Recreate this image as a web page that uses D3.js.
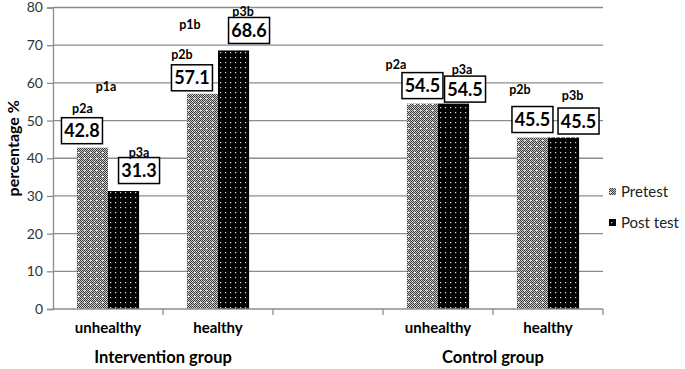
<!DOCTYPE html>
<html>
<head>
<meta charset="utf-8">
<script src="https://cdn.jsdelivr.net/npm/d3@7"></script>
<style>
  body { margin: 0; background: #fff; }
  svg text { font-family: Lato, "Open Sans", sans-serif; }
</style>
</head>
<body>
<div id="chart"></div>
<script>
const groups = ['Intervention group', 'Control group'];
const categories = ['unhealthy', 'healthy', 'unhealthy', 'healthy'];
const categoryGroup = [0, 0, 1, 1];
const series = ['Pretest', 'Post test'];
const pretest = [42.8, 57.1, 54.5, 45.5];
const posttest = [31.3, 68.6, 54.5, 45.5];
const pretestTags = ['p2a', 'p2b', 'p2a', 'p2b'];
const posttestTags = ['p3a', 'p3b', 'p3a', 'p3b'];
const topTags = ['p1a', 'p1b', '', ''];
const yTicks = [0, 10, 20, 30, 40, 50, 60, 70, 80];

// label placement, px offsets (box from bar top, tag from box centre)
const boxOffset = [
  [[-10.5, -17], [15.5, -20.5]],
  [[-10.5, -16], [15.5, -20]],
  [[0, -18], [11.5, -14.5]],
  [[0, -18], [15, -16.5]]
];
const tagOffset = [
  [[0.5, -22.5], [0, -18.5]],
  [[-10, -23], [-6, -19]],
  [[-26.5, -21.5], [-3, -19.5]],
  [[-12.5, -30.5], [-6, -26]]
];
const topTagOffset = [[-2, -61.6], [-28, -26.4]];

const width = 685, height = 369;
const mLeft = 53, mRight = 603, mTop = 7.5, mBottom = 309;

const svg = d3.select('#chart').append('svg')
  .attr('width', width)
  .attr('height', height);

// patterns
const defs = svg.append('defs');
const pPre = defs.append('pattern').attr('id', 'pre')
  .attr('patternUnits', 'userSpaceOnUse').attr('width', 6).attr('height', 6);
pPre.append('rect').attr('width', 6).attr('height', 6).attr('fill', '#3c3c3c');
for (let i = 0; i < 6; i++) {
  for (let j = 0; j < 6; j++) {
    if ((i + j) % 2 === 0) {
      pPre.append('rect').attr('x', i).attr('y', j).attr('width', 1).attr('height', 1)
        .attr('fill', '#c8c8c8');
    }
  }
}
pPre.append('rect').attr('x', 2).attr('y', 2).attr('width', 1).attr('height', 1).attr('fill', '#fff');
pPre.append('rect').attr('x', 1).attr('y', 2).attr('width', 1).attr('height', 1).attr('fill', '#eee');
pPre.append('rect').attr('x', 5).attr('y', 5).attr('width', 1).attr('height', 1).attr('fill', '#fff');

const pPost = defs.append('pattern').attr('id', 'post')
  .attr('patternUnits', 'userSpaceOnUse').attr('width', 5).attr('height', 5);
pPost.append('rect').attr('width', 5).attr('height', 5).attr('fill', '#000');
pPost.append('rect').attr('x', 2).attr('y', 2).attr('width', 1.2).attr('height', 1.2).attr('fill', '#ddd');

const slots = ['c0', 'c1', 'gap', 'c2', 'c3'];
const x0 = d3.scaleBand().domain(slots).range([mLeft, mRight]).padding(0);
const slotOf = i => slots.filter(s => s !== 'gap')[i];
const x1 = d3.scaleBand().domain(series).range([0, x0.bandwidth()]).paddingInner(0).paddingOuter(0.77);
const y = d3.scaleLinear().domain([0, 80]).range([mBottom, mTop]);

// grid
svg.append('g').selectAll('line').data(yTicks.filter(d => d > 0)).join('line')
  .attr('x1', mLeft).attr('x2', mRight)
  .attr('y1', d => y(d)).attr('y2', d => y(d))
  .attr('stroke', '#8c8c8c').attr('stroke-width', 1.3);

// y axis
const yAxis = svg.append('g').attr('transform', `translate(${mLeft},0)`)
  .call(d3.axisLeft(y).tickValues(yTicks).tickSize(6).tickPadding(4));
yAxis.select('.domain').attr('stroke', '#8c8c8c').attr('stroke-width', 1.3);
yAxis.selectAll('.tick line').attr('stroke', '#8c8c8c').attr('stroke-width', 1.3);
yAxis.selectAll('.tick text').attr('font-size', 14).attr('fill', '#333')
  .style('font-family', 'Lato, sans-serif');

// bars
const rows = categories.map((c, i) => ({ i, c, vals: [pretest[i], posttest[i]] }));
const cat = svg.append('g').selectAll('g').data(rows).join('g')
  .attr('transform', d => `translate(${x0(slotOf(d.i))},0)`);
cat.selectAll('rect').data(d => d.vals.map((v, k) => ({ v, k, i: d.i }))).join('rect')
  .attr('x', d => x1(series[d.k]))
  .attr('width', x1.bandwidth())
  .attr('y', d => y(d.v))
  .attr('height', d => y(0) - y(d.v))
  .attr('fill', d => d.k === 0 ? 'url(#pre)' : 'url(#post)');

// x axis
svg.append('line').attr('x1', mLeft).attr('x2', mRight).attr('y1', mBottom).attr('y2', mBottom)
  .attr('stroke', '#8c8c8c').attr('stroke-width', 1.3);
svg.append('g').selectAll('line').data(slots).join('line')
  .attr('x1', d => x0(d) + x0.bandwidth()).attr('x2', d => x0(d) + x0.bandwidth())
  .attr('y1', mBottom).attr('y2', mBottom + 6)
  .attr('stroke', '#8c8c8c').attr('stroke-width', 1.3);

svg.append('g').selectAll('text').data(categories).join('text')
  .attr('x', (d, i) => x0(slotOf(i)) + x0.bandwidth() / 2)
  .attr('y', 333)
  .attr('text-anchor', 'middle')
  .attr('font-size', 15).attr('font-weight', 'bold')
  .text(d => d);

svg.append('g').selectAll('text').data(groups).join('text')
  .attr('x', (d, g) => {
    const idx = categoryGroup.map((v, i) => v === g ? i : -1).filter(i => i >= 0);
    const a = x0(slotOf(idx[0])), b = x0(slotOf(idx[idx.length - 1])) + x0.bandwidth();
    return (a + b) / 2;
  })
  .attr('y', 363)
  .attr('text-anchor', 'middle')
  .attr('font-size', 16.5).attr('font-weight', 'bold')
  .text(d => d);

// y title
svg.append('text')
  .attr('transform', `translate(19,${(mTop + mBottom) / 2 - 10}) rotate(-90)`)
  .attr('text-anchor', 'middle')
  .attr('font-size', 16).attr('font-weight', 'bold')
  .text('percentage %');

// value boxes and tags
const labels = [];
rows.forEach(r => {
  r.vals.forEach((v, k) => {
    const bx = x0(slotOf(r.i)) + x1(series[k]) + x1.bandwidth() / 2;
    const by = y(v);
    const cx = bx + boxOffset[r.i][k][0];
    const cy = by + boxOffset[r.i][k][1];
    labels.push({ v, cx, cy,
      tag: k === 0 ? pretestTags[r.i] : posttestTags[r.i],
      tx: cx + tagOffset[r.i][k][0], ty: cy + tagOffset[r.i][k][1] });
  });
});
const lab = svg.append('g').selectAll('g').data(labels).join('g');
lab.append('rect')
  .attr('x', d => d.cx - 20.5).attr('y', d => d.cy - 13)
  .attr('width', 41).attr('height', 26)
  .attr('fill', '#fff').attr('stroke', '#000').attr('stroke-width', 1.5);
lab.append('text')
  .attr('x', d => d.cx).attr('y', d => d.cy + 6.5)
  .attr('text-anchor', 'middle')
  .attr('font-size', 18).attr('font-weight', 'bold')
  .text(d => d.v.toFixed(1));
lab.append('text')
  .attr('x', d => d.tx).attr('y', d => d.ty + 4.5)
  .attr('text-anchor', 'middle')
  .attr('font-size', 12.5).attr('font-weight', 'bold')
  .text(d => d.tag);

svg.append('g').selectAll('text').data(topTags.map((t, i) => ({ t, i })).filter(d => d.t)).join('text')
  .attr('x', d => x0(slotOf(d.i)) + x0.bandwidth() / 2 + topTagOffset[d.i][0])
  .attr('y', d => y(d3.max([pretest[d.i], posttest[d.i]])) + topTagOffset[d.i][1] + 4.5)
  .attr('text-anchor', 'middle')
  .attr('font-size', 12.5).attr('font-weight', 'bold')
  .text(d => d.t);

// legend
const legend = svg.append('g').attr('transform', 'translate(609,184)');
const li = legend.selectAll('g').data(series).join('g')
  .attr('transform', (d, i) => `translate(0,${i * 31})`);
li.append('rect').attr('width', 7).attr('height', 7).attr('y', 4)
  .attr('fill', (d, i) => i === 0 ? 'url(#pre)' : 'url(#post)');
li.append('text').attr('x', 12).attr('y', 13)
  .attr('font-size', 15).attr('fill', '#222')
  .text(d => d);
</script>
</body>
</html>
